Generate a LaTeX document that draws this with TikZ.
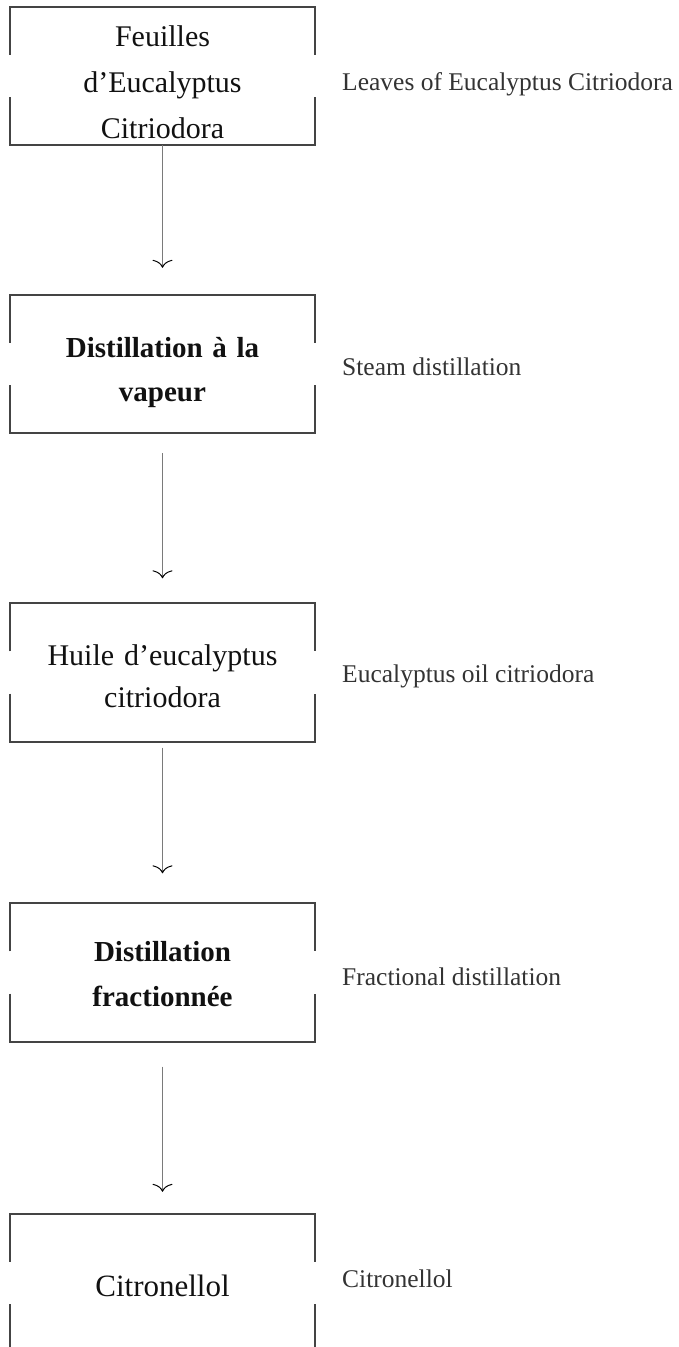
\documentclass[tikz,border=0pt]{standalone}
\usepackage{fontspec}
\setmainfont{Liberation Serif}
\usetikzlibrary{arrows.meta}
\definecolor{boxc}{HTML}{444444}
\definecolor{arrc}{HTML}{7A7A7A}
\definecolor{labc}{HTML}{333333}
\definecolor{txtc}{HTML}{111111}
\tikzset{
  stage/.style={minimum width=305pt, minimum height=138pt, inner sep=0pt, draw=none},
  stagetext/.style={text=txtc, align=center, text width=300pt, inner sep=0pt, font=\fontsize{30}{45}\selectfont},
  sidelabel/.style={text=labc, anchor=base west, inner sep=0pt, font=\fontsize{25.5}{30}\selectfont},
  frame/.style={draw=boxc, line width=2pt, line join=miter},
  flow/.style={draw=arrc, line width=1.2pt, -{Computer Modern Rightarrow[length=8pt,width=20pt,line width=1pt,color=black]}}
}
\newcommand\brframe[1]{%
  \draw[frame] ([yshift=-48pt]#1.north west) -- (#1.north west) -- (#1.north east) -- ([yshift=-48pt]#1.north east);
  \draw[frame] ([yshift=48pt]#1.south west) -- (#1.south west) -- (#1.south east) -- ([yshift=48pt]#1.south east);}
\begin{document}
\begin{tikzpicture}[x=1pt,y=-1pt]
  \useasboundingbox (0,0) rectangle (678,1347);
  \clip (0,0) rectangle (678,1347);
  % boxes
  \node[stage] (b1) at (162.5,76) {};
  \node[stage] (b2) at (162.5,364) {};
  \node[stage] (b3) at (162.5,672.5) {};
  \node[stage] (b4) at (162.5,972.5) {};
  \node[stage] (b5) at (162.5,1283) {};
  \brframe{b1}\brframe{b2}\brframe{b3}\brframe{b4}\brframe{b5}
  % box texts
  \node[stagetext, yshift=-6pt, font=\fontsize{30}{46}\selectfont] (t1) at (b1) {Feuilles\\d’Eucalyptus\\Citriodora};
  \node[stagetext, yshift=-9pt, font=\bfseries\fontsize{29}{44}\selectfont] (t2) at (b2) {Distillation à la\\vapeur};
  \node[stagetext, yshift=-4pt, font=\fontsize{30}{42}\selectfont] (t3) at (b3) {Huile d’eucalyptus\\citriodora};
  \node[stagetext, yshift=-2pt, font=\bfseries\fontsize{29}{45}\selectfont] (t4) at (b4) {Distillation\\fractionnée};
  \node[stagetext, yshift=-3pt, font=\fontsize{31}{45}\selectfont] (t5) at (b5) {Citronellol};
  % side labels
  \node[sidelabel] (l1) at (342,90) {Leaves of Eucalyptus Citriodora};
  \node[sidelabel] (l2) at (342,375) {Steam distillation};
  \node[sidelabel] (l3) at (342,682) {Eucalyptus oil citriodora};
  \node[sidelabel] (l4) at (342,985) {Fractional distillation};
  \node[sidelabel] (l5) at (342,1287) {Citronellol};
  % arrows
  \draw[flow, shorten >=27pt] (b1.south) -- (b2.north);
  \draw[flow, shorten <=20pt, shorten >=25pt] (b2.south) -- (b3.north);
  \draw[flow, shorten <=6pt, shorten >=30pt] (b3.south) -- (b4.north);
  \draw[flow, shorten <=25pt, shorten >=22pt] (b4.south) -- (b5.north);
\end{tikzpicture}
\end{document}
